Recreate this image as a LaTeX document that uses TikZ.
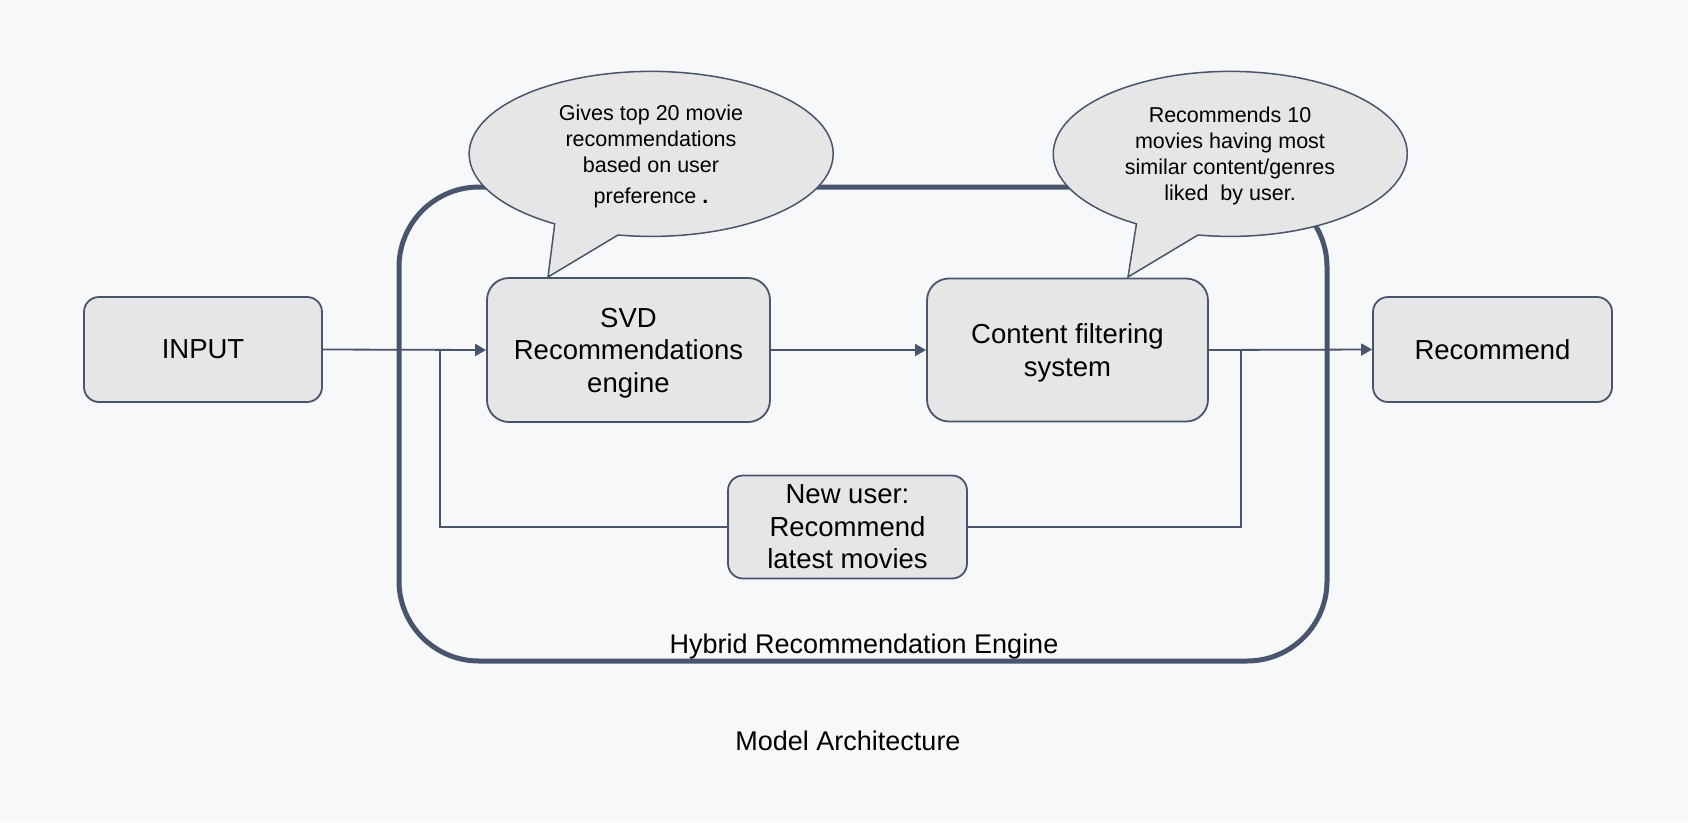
\documentclass[tikz,border=0pt]{standalone}
\usepackage{fontspec}
\setmainfont{Liberation Sans}
\usetikzlibrary{arrows.meta}
\definecolor{bgc}{RGB}{247,248,250}
\definecolor{boxfill}{RGB}{230,230,230}
\definecolor{slate}{RGB}{72,85,108}
\tikzset{
  boxnode/.style={draw=slate, line width=1.8pt, fill=boxfill, rounded corners=#1, align=center, inner sep=0pt,
    font=\fontsize{27.5}{32.5}\selectfont},
  boxnode/.default=18pt,
  conn/.style={draw=slate, line width=1.8pt},
  arr/.style={conn, -{Triangle[length=11pt,width=12pt]}},
  balloon/.style={draw=slate, line width=1.5pt, fill=boxfill},
  btext/.style={align=center, font=\fontsize{21.5}{26}\selectfont},
  ltext/.style={font=\fontsize{27}{32}\selectfont, anchor=base},
}
\begin{document}
\begin{tikzpicture}[x=1pt,y=-1pt]
\useasboundingbox[fill=bgc] (0,0) rectangle (1688,822);

% hybrid engine frame
\draw[slate, line width=5pt, rounded corners=80pt] (399,187) rectangle (1327,661);

% balloons
\path[balloon] (618,235) arc[start angle=100.5, end angle=-238, x radius=182, y radius=82.5] -- (548,277) -- cycle;
\path[balloon] (1198,235) arc[start angle=100.5, end angle=-238, x radius=177, y radius=82.5] -- (1128,277) -- cycle;
\node[btext] (b1) at (651,156) {Gives top 20 movie\\recommendations\\based on user\\[5pt]preference {\bfseries .}};
\node[btext] (b2) at (1230,156) {Recommends 10\\movies having most\\similar content/genres\\liked\ \ by user.};

% boxes
\node[boxnode=15pt, minimum width=238pt, minimum height=105pt] (in) at (203,349.5) {INPUT};
\node[boxnode=22pt, minimum width=283pt, minimum height=144pt] (svd) at (628.5,350) {SVD\\Recommendations\\\smash{engine}};
\node[boxnode=22pt, minimum width=281pt, minimum height=143pt] (cf) at (1067.5,350) {Content filtering\\\smash{system}};
\node[boxnode=15pt, minimum width=239pt, minimum height=105pt] (rec) at (1492.5,349.5) {Recommend};
\node[boxnode=15pt, minimum width=239pt, minimum height=103pt] (nu) at (847.5,527) {New user:\\Recommend\\latest movies};

% feedback path coordinates
\coordinate (fbR) at (1241,350);
\coordinate (fbRB) at (1241,527);
\coordinate (fbLB) at (440,527);
\coordinate (fbL) at (440,350);
\coordinate (fbE) at (460,350);

% connectors
\draw[arr] (in.east) -- (svd.west);
\draw[arr] (svd.east) -- (cf.west);
\draw[arr] (cf.east) -- (rec.west);
\draw[conn] (fbR) -- (fbRB) -- (nu.east);
\draw[conn] (nu.west) -- (fbLB) -- (fbL) -- (fbE);

% labels
\node[ltext] (hy) at (864,653) {Hybrid Recommendation Engine};
\node[ltext] (ma) at (848,750) {Model Architecture};
\end{tikzpicture}
\end{document}
